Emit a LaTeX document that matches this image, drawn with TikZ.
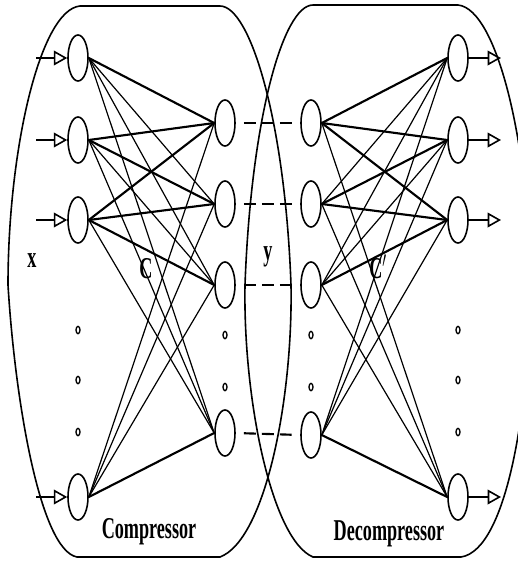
\documentclass[tikz,border=0pt]{standalone}
\usepackage{fontspec}
\setmainfont{Liberation Serif}
\usetikzlibrary{shapes.geometric,arrows.meta}
\newcommand{\lbl}[1]{\scalebox{0.6}[1]{\fontsize{22.7pt}{24pt}\selectfont\bfseries #1}}
\tikzset{
  unit/.style={ellipse,draw,line width=1.2pt,minimum width=15pt,minimum height=34.5pt,inner sep=0pt},
  dotmark/.style={ellipse,draw,line width=1pt,minimum width=3pt,minimum height=5.5pt,inner sep=0pt},
  container/.style={draw,line width=1.2pt},
  thin/.style={line width=0.9pt},
  thick/.style={line width=1.6pt},
  ioarrow/.style={line width=1.6pt,-{Triangle[open,length=10pt,width=11pt,line width=1.2pt]}},
  link/.style={line width=1.6pt,dash pattern=on 9pt off 4.5pt,shorten <=6pt,shorten >=6.5pt},
  txt/.style={inner sep=0pt,anchor=base}
}
\begin{document}
\begin{tikzpicture}[x=0.75pt,y=-0.75pt]
\useasboundingbox (0,0) rectangle (518,562);
\begin{scope}
\clip (0,0) rectangle (518,562);
% containers
\draw[container] (80,6) -- (220,6) .. controls (250,6) and (285,120) .. (291,285)
  .. controls (293,400) and (265,540) .. (220,557) -- (77,557)
  .. controls (40,550) and (15,400) .. (8,285)
  .. controls (8,150) and (40,10) .. (80,6) -- cycle;
\draw[container] (313,5) -- (458,5) .. controls (498,9) and (530,150) .. (530,285)
  .. controls (530,400) and (508,550) .. (461,557) -- (313,557)
  .. controls (272,540) and (243,400) .. (245,285)
  .. controls (251,120) and (283,5) .. (313,5) -- cycle;
\end{scope}
% units
\node[unit] (in1) at (78,58) {};
\node[unit] (in2) at (78,140) {};
\node[unit] (in3) at (78,220) {};
\node[unit] (in4) at (78,497) {};
\node[unit] (m1) at (225,123) {};
\node[unit] (m2) at (225,204) {};
\node[unit] (m3) at (225,285) {};
\node[unit] (m4) at (225,433) {};
\node[unit] (d1) at (311,123) {};
\node[unit] (d2) at (311,204) {};
\node[unit] (d3) at (311,285) {};
\node[unit] (d4) at (311,435) {};
\node[unit] (o1) at (458,58) {};
\node[unit] (o2) at (458,140) {};
\node[unit] (o3) at (458,220) {};
\node[unit] (o4) at (458,497) {};
% dots
\node[dotmark] (p1) at (78,330) {};
\node[dotmark] (p2) at (78,380) {};
\node[dotmark] (p3) at (78,432) {};
\node[dotmark] (q1) at (225,335) {};
\node[dotmark] (q2) at (225,387) {};
\node[dotmark] (r1) at (311,335) {};
\node[dotmark] (r2) at (311,387) {};
\node[dotmark] (s1) at (458,330) {};
\node[dotmark] (s2) at (458,380) {};
\node[dotmark] (s3) at (458,432) {};
% input / output arrows
\coordinate (a1) at (36,58);
\coordinate (a2) at (36,140);
\coordinate (a3) at (36,220);
\coordinate (a4) at (36,497);
\coordinate (b1) at (501,58);
\coordinate (b2) at (501,140);
\coordinate (b3) at (501,220);
\coordinate (b4) at (501,497);
\foreach \i in {1,2,3,4}{
  \draw[ioarrow] (a\i) -- (in\i.west);
  \draw[ioarrow] (o\i.east) -- (b\i);
  \draw[link] (m\i.east) -- (d\i.west);
}
% compressor connections
\foreach \i/\j/\s in {1/1/thick,1/2/thin,1/3/thin,1/4/thin,
                      2/1/thick,2/2/thick,2/3/thin,2/4/thin,
                      3/1/thick,3/2/thick,3/3/thick,3/4/thin,
                      4/1/thin,4/2/thin,4/3/thin,4/4/thick}{
  \draw[\s] (in\i.east) -- (m\j.west);
}
% decompressor connections
\foreach \i/\j/\s in {1/1/thick,1/2/thick,1/3/thick,1/4/thin,
                      2/1/thin,2/2/thick,2/3/thick,2/4/thin,
                      3/1/thin,3/2/thin,3/3/thick,3/4/thin,
                      4/1/thin,4/2/thin,4/3/thin,4/4/thick}{
  \draw[\s] (d\i.east) -- (o\j.west);
}
% labels
\node[txt] (lx) at (32,267) {\lbl{x}};
\node[txt] (ly) at (268,260) {\lbl{y}};
\node[txt] (lc) at (146,278) {\lbl{C}};
\node[txt] (lcd) at (378,278) {\lbl{C$'$}};
\node[txt] (lcomp) at (149,538) {\lbl{Compressor}};
\node[txt] (ldec) at (389,540) {\lbl{Decompressor}};
\end{tikzpicture}
\end{document}
